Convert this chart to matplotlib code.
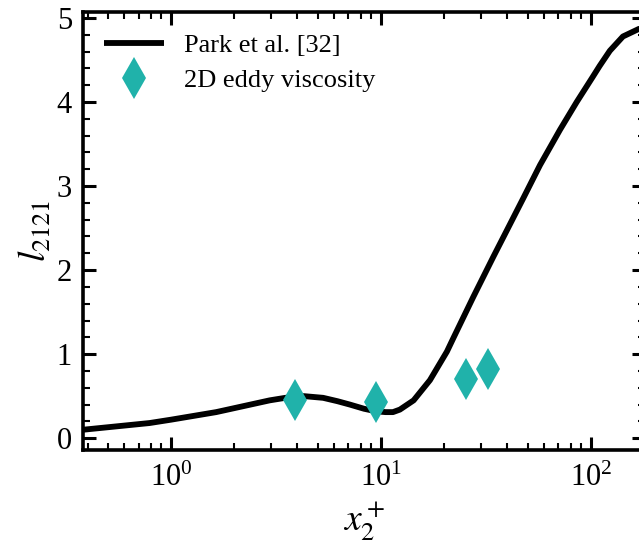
import matplotlib
matplotlib.use("Agg")
import matplotlib.pyplot as plt
from matplotlib.ticker import LogLocator, MultipleLocator

# Park et al. [32] curve
park_x = [0.38, 0.5, 0.79, 1.0, 1.64, 2.2, 2.95, 3.5, 4.3, 5.3, 6.2, 7.1, 8.3, 9.46, 10.5, 11.4,
          12.3, 14.3, 17.1, 20.6, 22.1, 27.5, 34.3, 39.7, 47.7, 57.2, 71.2, 85.5, 102, 110, 123,
          142, 169, 182]
park_y = [0.10, 0.13, 0.18, 0.22, 0.31, 0.38, 0.45, 0.48, 0.50, 0.48, 0.44, 0.40, 0.35, 0.32, 0.31, 0.31,
          0.34, 0.45, 0.69, 1.03, 1.19, 1.68, 2.16, 2.47, 2.86, 3.25, 3.67, 4.00, 4.30, 4.43, 4.61,
          4.78, 4.87, 4.88]

# 2D eddy viscosity
eddy_x = [3.9, 9.46, 25.3, 32.4]
eddy_y = [0.46, 0.43, 0.70, 0.82]

plt.rcParams["font.family"] = ["Liberation Serif", "DejaVu Serif"]
plt.rcParams["mathtext.fontset"] = "stix"

fig = plt.figure(figsize=(6.39, 5.47), dpi=100)
ax = fig.add_axes([0.130, 0.177, 0.8795, 0.801])

ax.plot(park_x, park_y, "-", color="black", lw=4.2, label="Park et al. [32]", zorder=2,
        solid_joinstyle="round", solid_capstyle="butt")
ax.plot(eddy_x, eddy_y, "d", color="#20B2AA", ms=21, mew=0, label="2D eddy viscosity", zorder=3)

ax.set_xscale("log")
ax.set_xlim(0.381, 181)
ax.set_ylim(-0.143, 5.071)
ax.yaxis.set_major_locator(MultipleLocator(1))
ax.yaxis.set_minor_locator(MultipleLocator(0.2))
ax.xaxis.set_major_locator(LogLocator(base=10, numticks=10))
ax.xaxis.set_minor_locator(LogLocator(base=10, subs=range(2, 10), numticks=20))

ax.tick_params(which="both", direction="in", top=True, right=True, labelsize=22)
ax.tick_params(which="major", length=9.5, width=2.2, pad=10)
ax.tick_params(axis="y", which="major", pad=8)
ax.tick_params(which="minor", length=5, width=1.5)
for s in ax.spines.values():
    s.set_linewidth(2.6)

ax.set_xlabel(r"$x_2^+$", fontsize=27, labelpad=4)
ax.set_ylabel(r"$l_{2121}$", fontsize=27, labelpad=2)

ax.legend(loc="upper left", bbox_to_anchor=(0.018, 0.975), frameon=False, fontsize=19,
          handlelength=2.3, borderaxespad=0, handletextpad=0.75, labelspacing=0.45)

fig.savefig("out.png", dpi=100)
